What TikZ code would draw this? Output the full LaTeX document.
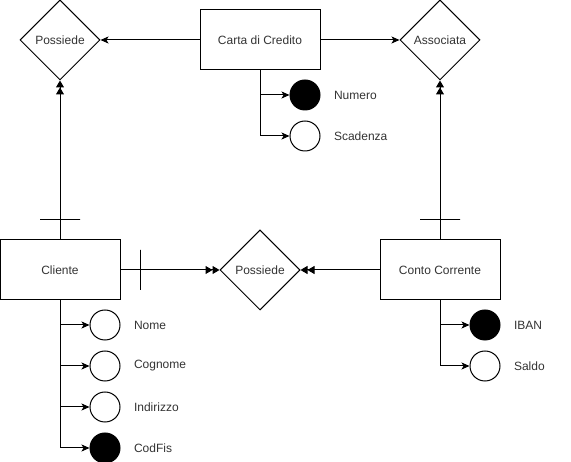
\documentclass[tikz,border=0pt]{standalone}
\usepackage{fontspec}
\setmainfont{Liberation Sans}
\usetikzlibrary{positioning}
\usetikzlibrary{shapes.geometric}
\usetikzlibrary{arrows.meta}
\colorlet{txtC}{black!80}
\newcommand\erfont{\fontsize{12}{14}\selectfont}
\tikzstyle{ent}=[draw, shape=rectangle, minimum width=120pt, minimum height=60pt, inner sep=0pt, text=txtC, font=\erfont]
\tikzstyle{rel}=[draw, shape=diamond, aspect=1, minimum width=80pt, minimum height=80pt, inner sep=0pt, fill=white, text=txtC, font=\erfont]
\tikzstyle{att}=[draw, node distance=10pt, shape=circle, minimum size=30pt, inner sep=0pt, fill=white]
\tikzstyle{katt}=[draw, node distance=10pt, shape=circle, minimum size=30pt, inner sep=0pt, fill=black]
\tikzstyle{lbl}=[node distance=10pt, shape=rectangle, inner sep=3pt, text=txtC, font=\erfont]
\tikzstyle{onebar}=[draw, sloped, shape=rectangle, inner sep=0pt, minimum width=0pt, minimum height=40pt]
\tikzstyle{mlink}=[-{Stealth[length=8pt,width=7pt,inset=2pt]}, color=black]
\tikzstyle{mdlink}=[-{Triangle[length=7pt,width=8pt,sep=0pt]Triangle[length=7pt,width=8pt]}, color=black]
\def\ment{\node[style=ent]}
\def\mrel{\node[style=rel]}
\def\matt{\node[style=att]}
\def\mkatt{\node[style=katt]}
\def\mlbl{\node[style=lbl]}
\def\mlink{\draw[style=mlink]}
\def\mdlink{\draw[style=mdlink]}
\begin{document}
\begin{tikzpicture}[x=1pt, y=-1pt, line width=1pt]
      \useasboundingbox (0,0) rectangle (571,462);
      % entities and relations
      \mrel (possA)   at (60,40)   {Possiede};
      \ment (carta)   at (260,40)  {Carta di Credito};
      \mrel (assoc)   at (440,40)  {Associata};
      \ment (cliente) at (60,270)  {Cliente};
      \mrel (possB)   at (260,270) {Possiede};
      \ment (conto)   at (440,270) {Conto Corrente};

      \mlink (carta.west) -- (possA.east);
      \mlink (carta.east) -- (assoc.west);
      \mdlink (cliente.north) -- node[onebar, pos=0.125] {} (possA.south);
      \mdlink (conto.north)   -- node[onebar, pos=0.125] {} (assoc.south);
      \mdlink (cliente.east)  -- node[onebar, pos=0.2] {}   (possB.west);
      \mdlink (conto.west)    -- (possB.east);
      % carta
      \mkatt (num)  at (305,95)        {};
      \matt  (scad) [below=of num]     {};
      \mlbl  (numT)  [right=of num]    {Numero};
      \mlbl  (scadT) [right=of scad]   {Scadenza};

      \mlink (carta.south) |- (num.west);
      \mlink (carta.south) |- (scad.west);
      % cliente
      \matt  (nome) at (105,325)       {};
      \matt  (cogn) [below=of nome]    {};
      \matt  (indi) [below=of cogn]    {};
      \mkatt (codf) [below=of indi]    {};
      \mlbl  (nomeT) [right=of nome]   {Nome};
      \mlbl  (cognT) [right=of cogn]   {Cognome};
      \mlbl  (indiT) [right=of indi]   {Indirizzo};
      \mlbl  (codfT) [right=of codf]   {CodFis};

      \mlink (cliente.south) |- (nome.west);
      \mlink (cliente.south) |- (cogn.west);
      \mlink (cliente.south) |- (indi.west);
      \mlink (cliente.south) |- (codf.west);
      % conto
      \mkatt (iban)  at (485,325)      {};
      \matt  (saldo) [below=of iban]   {};
      \mlbl  (ibanT)  [right=of iban]  {IBAN};
      \mlbl  (saldoT) [right=of saldo] {Saldo};

      \mlink (conto.south) |- (iban.west);
      \mlink (conto.south) |- (saldo.west);
\end{tikzpicture}
\end{document}
